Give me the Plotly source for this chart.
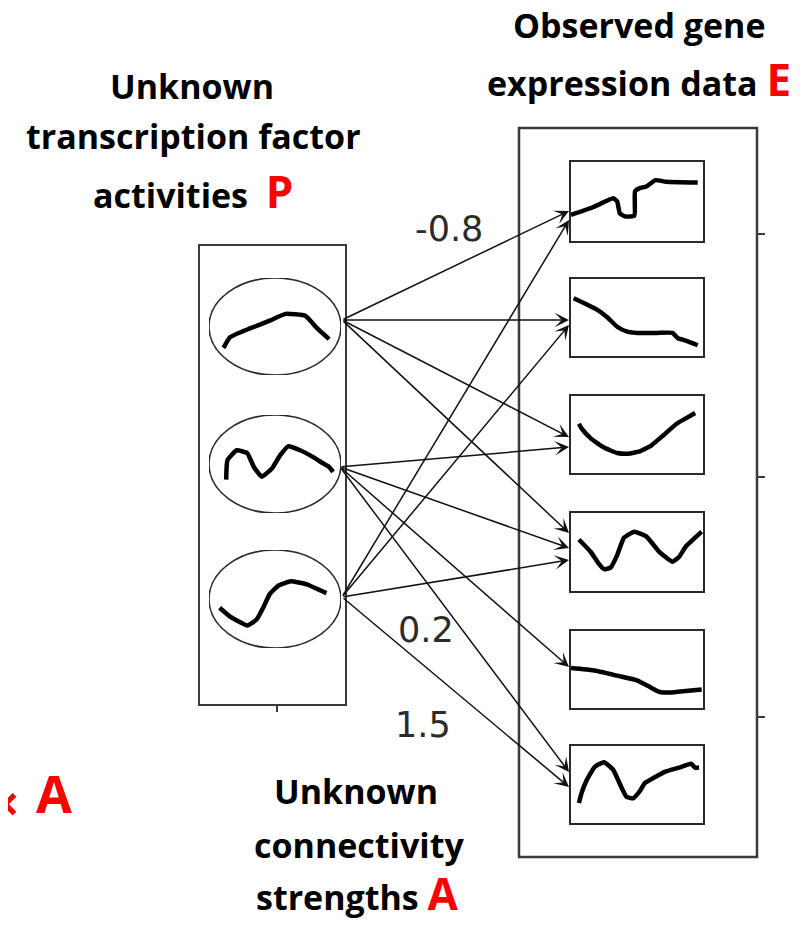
import plotly.graph_objects as go

W, H = 808, 929
OFF = 8  # page body margin compensation

# ---------------- data ----------------
# transcription-factor activity profiles (normalised time, normalised level)
tf1_t = [0.11, 0.16, 0.31, 0.46, 0.58, 0.73, 0.82, 0.91]
tf1_v = [0.28, 0.39, 0.48, 0.56, 0.63, 0.61, 0.48, 0.37]
tf2_t = [0.13, 0.14, 0.21, 0.29, 0.34, 0.40, 0.48, 0.54, 0.60, 0.69, 0.79, 0.86, 0.91, 0.94]
tf2_v = [0.34, 0.54, 0.64, 0.61, 0.47, 0.37, 0.46, 0.59, 0.68, 0.64, 0.57, 0.51, 0.47, 0.42]
tf3_t = [0.08, 0.16, 0.29, 0.36, 0.41, 0.46, 0.53, 0.62, 0.74, 0.89]
tf3_v = [0.41, 0.32, 0.23, 0.29, 0.41, 0.55, 0.64, 0.68, 0.65, 0.56]

# observed gene expression profiles
g1_t = [0.00, 0.17, 0.32, 0.35, 0.37, 0.41, 0.48, 0.485, 0.52, 0.57, 0.64, 0.72, 0.96]
g1_v = [0.33, 0.43, 0.54, 0.50, 0.35, 0.31, 0.32, 0.63, 0.67, 0.69, 0.77, 0.75, 0.74]
g2_t = [0.02, 0.12, 0.20, 0.27, 0.35, 0.42, 0.50, 0.65, 0.77, 0.81, 0.87, 0.96]
g2_v = [0.75, 0.67, 0.60, 0.51, 0.38, 0.32, 0.30, 0.30, 0.30, 0.23, 0.20, 0.14]
g3_t = [0.06, 0.08, 0.15, 0.25, 0.35, 0.43, 0.52, 0.61, 0.70, 0.80, 0.87, 0.94]
g3_v = [0.64, 0.58, 0.45, 0.33, 0.26, 0.25, 0.28, 0.36, 0.49, 0.64, 0.71, 0.78]
g4_t = [0.06, 0.15, 0.21, 0.25, 0.30, 0.35, 0.40, 0.48, 0.57, 0.67, 0.77, 0.82, 0.87, 0.99]
g4_v = [0.66, 0.50, 0.35, 0.28, 0.30, 0.46, 0.68, 0.76, 0.70, 0.50, 0.375, 0.44, 0.57, 0.76]
g5_t = [0.00, 0.17, 0.35, 0.50, 0.60, 0.67, 0.75, 0.87, 0.99]
g5_v = [0.52, 0.49, 0.42, 0.36, 0.27, 0.21, 0.20, 0.22, 0.24]
g6_t = [0.06, 0.08, 0.12, 0.18, 0.25, 0.32, 0.38, 0.42, 0.47, 0.52, 0.56, 0.62, 0.72, 0.82, 0.91, 0.94, 0.97]
g6_v = [0.26, 0.39, 0.56, 0.73, 0.79, 0.69, 0.47, 0.34, 0.32, 0.41, 0.52, 0.58, 0.67, 0.72, 0.77, 0.72, 0.72]

# connectivity network: source TF -> target gene
edge_src = [0, 0, 0, 0, 1, 1, 1, 1, 2, 2, 2, 2]
edge_dst = [0, 1, 2, 3, 2, 3, 4, 5, 0, 1, 3, 5]
strength_labels = ["-0.8", "0.2", "1.5"]

# ---------------- layout geometry (pixels) ----------------
tf_curves = [(tf1_t, tf1_v), (tf2_t, tf2_v), (tf3_t, tf3_v)]
gene_curves = [(g1_t, g1_v), (g2_t, g2_v), (g3_t, g3_v), (g4_t, g4_v), (g5_t, g5_v), (g6_t, g6_v)]

tf_x = (209, 341)
tf_y = [(278, 375), (415, 513), (550, 648)]
gene_x = (571, 703)
gene_y = [(162, 241), (279, 356), (396, 473), (513, 591), (631, 708), (746, 823)]
src_pts = [(342, 320), (340, 467), (342, 597)]
tgt_y = [211, 320, 437, 533, 447, 548, 667, 772, 220, 325, 560, 787]
tgt_x = 569

fig = go.Figure()
layout = dict(
    width=W, height=H, margin=dict(l=0, r=0, t=0, b=0),
    paper_bgcolor="white", plot_bgcolor="rgba(0,0,0,0)", showlegend=False,
    xaxis=dict(domain=[0, 1], range=[OFF, W + OFF], visible=False, fixedrange=True),
    yaxis=dict(domain=[0, 1], range=[H + OFF, OFF], visible=False, fixedrange=True),
)

shapes = []
annotations = []

def px_dom_x(a, b):
    return [(a - OFF) / W, (b - OFF) / W]

def px_dom_y(top, bot):
    return [1 - (bot - OFF) / H, 1 - (top - OFF) / H]

idx = 2
# gene panels
for (t, v), (y0, y1) in zip(gene_curves, gene_y):
    frame = dict(showline=True, mirror=True, linecolor="#2a2a2a", linewidth=2,
                 showgrid=False, zeroline=False, showticklabels=False, ticks="", fixedrange=True)
    layout[f"xaxis{idx}"] = dict(domain=px_dom_x(*gene_x), range=[0, 1], anchor=f"y{idx}", **frame)
    layout[f"yaxis{idx}"] = dict(domain=px_dom_y(y0, y1), range=[0, 1], anchor=f"x{idx}", **frame)
    fig.add_trace(go.Scatter(x=t, y=v, mode="lines", xaxis=f"x{idx}", yaxis=f"y{idx}",
                             line=dict(color="black", width=4.5, shape="spline", smoothing=0.4),
                             hoverinfo="skip"))
    idx += 1

# TF panels (ellipses)
for (t, v), (y0, y1) in zip(tf_curves, tf_y):
    layout[f"xaxis{idx}"] = dict(domain=px_dom_x(*tf_x), range=[0, 1], anchor=f"y{idx}", visible=False, fixedrange=True)
    layout[f"yaxis{idx}"] = dict(domain=px_dom_y(y0, y1), range=[0, 1], anchor=f"x{idx}", visible=False, fixedrange=True)
    fig.add_trace(go.Scatter(x=t, y=v, mode="lines", xaxis=f"x{idx}", yaxis=f"y{idx}",
                             line=dict(color="black", width=4.5, shape="spline", smoothing=0.4),
                             hoverinfo="skip"))
    shapes.append(dict(type="circle", xref=f"x{idx}", yref=f"y{idx}", x0=0, x1=1, y0=0, y1=1,
                       line=dict(color="#2a2a2a", width=1.6), layer="above"))
    idx += 1

# outer boxes and ticks
shapes.append(dict(type="rect", xref="x", yref="y", x0=199, x1=346, y0=245, y1=705,
                   line=dict(color="#3a3a3a", width=2)))
shapes.append(dict(type="line", xref="x", yref="y", x0=277, x1=277, y0=705, y1=712,
                   line=dict(color="#3a3a3a", width=2)))
shapes.append(dict(type="rect", xref="x", yref="y", x0=519, x1=757, y0=128, y1=857,
                   line=dict(color="#3a3a3a", width=2.5)))
for ty in [234, 477, 717]:
    shapes.append(dict(type="line", xref="x", yref="y", x0=757, x1=765, y0=ty, y1=ty,
                       line=dict(color="#3a3a3a", width=2)))

# arrows
for s, d, ty in zip(edge_src, edge_dst, tgt_y):
    sx, sy = src_pts[s]
    annotations.append(dict(x=tgt_x, y=ty, xref="x", yref="y", ax=sx, ay=sy, axref="x", ayref="y",
                            showarrow=True, arrowhead=3, arrowsize=1.6, arrowwidth=1.5,
                            arrowcolor="#111", text="", standoff=0, startstandoff=0))

# connectivity strength labels
num_font = dict(family="DejaVu Sans", size=35, color="#2b2b2b")
for lab, (lx, ly) in zip(strength_labels, [(449, 229), (426, 630), (423, 725)]):
    annotations.append(dict(x=lx, y=ly, xref="x", yref="y", text=lab, showarrow=False,
                            font=num_font, xanchor="center", yanchor="middle"))

# titles
tfont = dict(family="Open Sans", size=34, color="black", weight=700)
red = '<span style="color:#ff0000;font-size:44px">{}</span>'
title_lines = [
    ("Unknown", 192, 98),
    ("transcription factor", 193, 148),
    ("activities  " + red.format("P"), 193, 210),
    ("Observed gene", 639, 37),
    ("expression data " + red.format("E"), 639, 98),
    ("Unknown", 356, 803),
    ("connectivity", 359, 857),
    ("strengths " + red.format("A"), 357, 912),
]
for txt, cx, base in title_lines:
    annotations.append(dict(x=cx, y=base + 13, xref="x", yref="y", text=txt, showarrow=False,
                            font=tfont, xanchor="center", yanchor="bottom"))

red_font = dict(family="Open Sans", size=52, color="#ff0000", weight=700)
annotations.append(dict(x=74, y=830, xref="x", yref="y", text="A", showarrow=False,
                        font=red_font, xanchor="right", yanchor="bottom"))
annotations.append(dict(x=OFF, y=803, xref="x", yref="y", text="×", showarrow=False,
                        font=dict(family="Open Sans", size=50, color="#ff0000", weight=700),
                        xanchor="center", yanchor="middle", xshift=-3))

layout["shapes"] = shapes
layout["annotations"] = annotations
fig.update_layout(**layout)
fig.write_html("out.html")
